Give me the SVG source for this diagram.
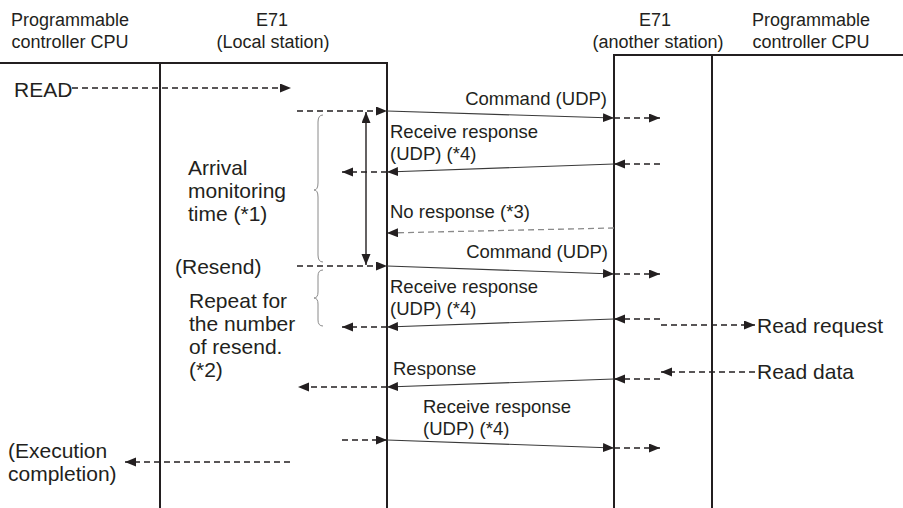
<svg xmlns="http://www.w3.org/2000/svg" width="903" height="508" viewBox="0 0 903 508">
<style>
text{font-family:"Liberation Sans",Arial,sans-serif;fill:#231f20}
.hd{font-size:18px}
.lb{font-size:18.5px}
.bg{font-size:21px}
.life{stroke:#231f20;stroke-width:2;fill:none}
.msg{stroke:#3a3a3a;stroke-width:1.2;fill:none}
.dsh{stroke:#231f20;stroke-width:1.4;stroke-dasharray:6 4;fill:none}
.gdsh{stroke:#8a8a8a;stroke-width:1.3;stroke-dasharray:6 4;fill:none}
.brace{stroke:#8a8a8a;stroke-width:1;fill:none}
</style>
<defs>
<marker id="ah" markerUnits="userSpaceOnUse" markerWidth="12" markerHeight="10" refX="11" refY="4.5" orient="auto">
<path d="M0,0 L11,4.5 L0,9 z" fill="#231f20"/>
</marker>
<marker id="ahs" markerUnits="userSpaceOnUse" markerWidth="12" markerHeight="10" refX="11" refY="4.5" orient="auto-start-reverse">
<path d="M0,0 L11,4.5 L0,9 z" fill="#231f20"/>
</marker>
</defs>

<g id="cpu-local">
<text class="hd" x="70" y="26" text-anchor="middle">Programmable</text>
<text class="hd" x="70" y="48" text-anchor="middle">controller CPU</text>
<path class="life" d="M0,63 H387 M160,63 V508"/>
</g>
<g id="e71-local">
<text class="hd" x="272" y="26" text-anchor="middle">E71</text>
<text class="hd" x="273" y="48" text-anchor="middle">(Local station)</text>
<path class="life" d="M387,62 V508"/>
</g>
<g id="e71-remote">
<text class="hd" x="655" y="26" text-anchor="middle">E71</text>
<text class="hd" x="658" y="48" text-anchor="middle">(another station)</text>
<path class="life" d="M614,55 H903 M614,54 V508"/>
</g>
<g id="cpu-remote">
<text class="hd" x="811" y="26" text-anchor="middle">Programmable</text>
<text class="hd" x="811" y="48" text-anchor="middle">controller CPU</text>
<path class="life" d="M712,55 V508"/>
</g>

<g id="left-notes">
<text class="bg" x="14" y="97">READ</text>
<text class="bg" x="188" y="175">Arrival</text>
<text class="bg" x="188" y="198">monitoring</text>
<text class="bg" x="188" y="221">time (*1)</text>
<text class="bg" x="175" y="274">(Resend)</text>
<text class="bg" x="189" y="308">Repeat for</text>
<text class="bg" x="189" y="331">the number</text>
<text class="bg" x="189" y="354">of resend.</text>
<text class="bg" x="189" y="377">(*2)</text>
<text class="bg" x="8" y="458">(Execution</text>
<text class="bg" x="8" y="481">completion)</text>
</g>
<g id="right-notes">
<text class="bg" x="757" y="333">Read request</text>
<text class="bg" x="757" y="379">Read data</text>
</g>
<g id="msg-labels">
<text class="lb" x="607" y="105" text-anchor="end">Command (UDP)</text>
<text class="lb" x="390" y="138">Receive response</text>
<text class="lb" x="390" y="160">(UDP) (*4)</text>
<text class="lb" x="390" y="218">No response (*3)</text>
<text class="lb" x="608" y="258" text-anchor="end">Command (UDP)</text>
<text class="lb" x="390" y="293">Receive response</text>
<text class="lb" x="390" y="315">(UDP) (*4)</text>
<text class="lb" x="393" y="375">Response</text>
<text class="lb" x="423" y="413">Receive response</text>
<text class="lb" x="423" y="435">(UDP) (*4)</text>
</g>

<g id="braces">
<path class="brace" d="M323,115 Q318,115 318,122 L318,183 Q318,190 314,190 Q318,190 318,197 L318,255 Q318,262 323,262"/>
<path class="brace" d="M323,270 Q318,270 318,276 L318,292 Q318,298 314,298 Q318,298 318,304 L318,320 Q318,326 323,326"/>
</g>

<g id="connectors">
<line class="dsh" x1="72" y1="88" x2="291" y2="88" marker-end="url(#ah)"/>
<line x1="366" y1="112" x2="366" y2="265" stroke="#231f20" stroke-width="1.4" marker-start="url(#ahs)" marker-end="url(#ah)"/>

<line class="dsh" x1="297" y1="111" x2="387" y2="111" marker-end="url(#ah)"/>
<line class="msg" x1="387" y1="111" x2="614" y2="118" marker-end="url(#ah)"/>
<line class="dsh" x1="614" y1="118" x2="660" y2="118" marker-end="url(#ah)"/>

<line class="dsh" x1="660" y1="164" x2="614" y2="164" marker-end="url(#ah)"/>
<line class="msg" x1="614" y1="164" x2="387" y2="172" marker-end="url(#ah)"/>
<line class="dsh" x1="387" y1="172" x2="342" y2="172" marker-end="url(#ah)"/>

<line class="gdsh" x1="614" y1="228" x2="387" y2="233" marker-end="url(#ah)"/>

<line class="dsh" x1="297" y1="266" x2="387" y2="266" marker-end="url(#ah)"/>
<line class="msg" x1="387" y1="266" x2="614" y2="274" marker-end="url(#ah)"/>
<line class="dsh" x1="614" y1="274" x2="660" y2="274" marker-end="url(#ah)"/>

<line class="dsh" x1="660" y1="319" x2="614" y2="319" marker-end="url(#ah)"/>
<line class="msg" x1="614" y1="319" x2="387" y2="327" marker-end="url(#ah)"/>
<line class="dsh" x1="387" y1="327" x2="342" y2="327" marker-end="url(#ah)"/>
<line class="dsh" x1="661" y1="325" x2="755" y2="325" marker-end="url(#ah)"/>

<line class="dsh" x1="755" y1="372" x2="661" y2="372" marker-end="url(#ah)"/>
<line class="dsh" x1="660" y1="379" x2="614" y2="379" marker-end="url(#ah)"/>
<line class="msg" x1="614" y1="379" x2="387" y2="387" marker-end="url(#ah)"/>
<line class="dsh" x1="387" y1="387" x2="298" y2="387" marker-end="url(#ah)"/>

<line class="dsh" x1="342" y1="440" x2="387" y2="440" marker-end="url(#ah)"/>
<line class="msg" x1="387" y1="440" x2="614" y2="448" marker-end="url(#ah)"/>
<line class="dsh" x1="614" y1="448" x2="660" y2="448" marker-end="url(#ah)"/>

<line class="dsh" x1="290" y1="462" x2="125" y2="462" marker-end="url(#ah)"/>
</g>
</svg>
